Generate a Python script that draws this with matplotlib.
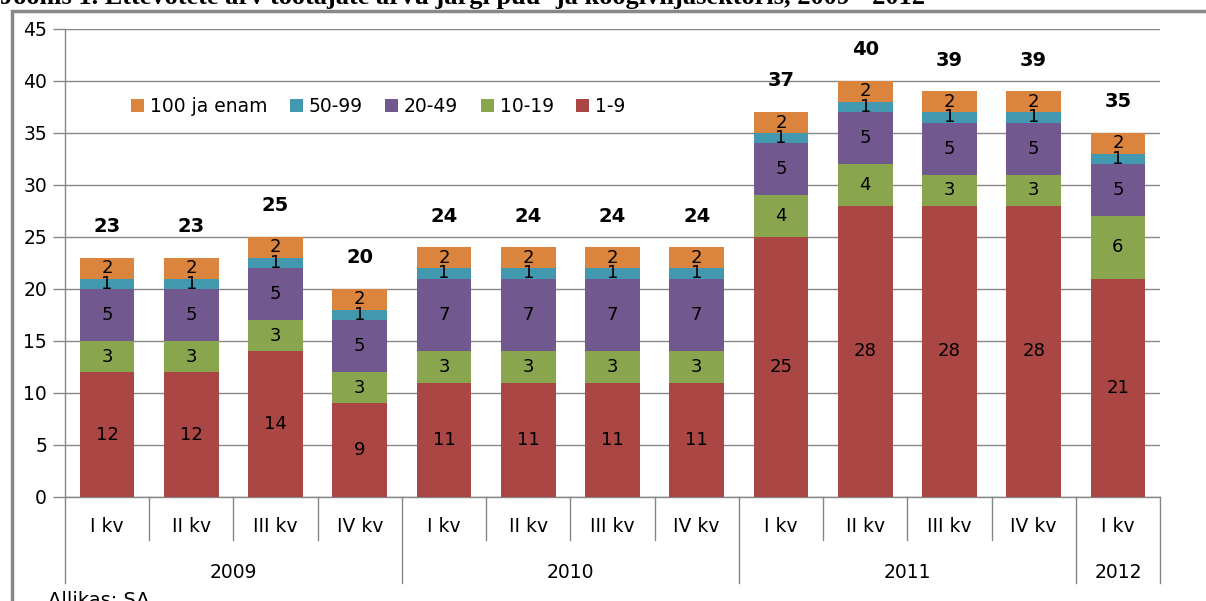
import numpy as np
import matplotlib
matplotlib.use("Agg")
import matplotlib.pyplot as plt
from matplotlib.patches import Rectangle

quarters = ["I kv", "II kv", "III kv", "IV kv", "I kv", "II kv", "III kv", "IV kv",
            "I kv", "II kv", "III kv", "IV kv", "I kv"]
years = ["2009", "2010", "2011", "2012"]
year_counts = [4, 4, 4, 1]

series_names = ["1-9", "10-19", "20-49", "50-99", "100 ja enam"]
s_1_9 = [12, 12, 14, 9, 11, 11, 11, 11, 25, 28, 28, 28, 21]
s_10_19 = [3, 3, 3, 3, 3, 3, 3, 3, 4, 4, 3, 3, 6]
s_20_49 = [5, 5, 5, 5, 7, 7, 7, 7, 5, 5, 5, 5, 5]
s_50_99 = [1, 1, 1, 1, 1, 1, 1, 1, 1, 1, 1, 1, 1]
s_100 = [2, 2, 2, 2, 2, 2, 2, 2, 2, 2, 2, 2, 2]
totals = [23, 23, 25, 20, 24, 24, 24, 24, 37, 40, 39, 39, 35]

colors = ["#AA4643", "#89A54E", "#71588F", "#4198AF", "#DB843D"]
grid_col = "#868686"

fig = plt.figure(figsize=(12.06, 6.01), dpi=100)
W, H = 1206, 601
ax = fig.add_axes([65 / W, 1 - 497 / H, (1160 - 65) / W, (497 - 29) / H])

x = np.arange(len(quarters))
bottom = np.zeros(len(quarters))
handles = []
for name, vals, col in zip(series_names, [s_1_9, s_10_19, s_20_49, s_50_99, s_100], colors):
    vals = np.array(vals, dtype=float)
    b = ax.bar(x, vals, 0.65, bottom=bottom, color=col, label=name, zorder=3)
    handles.append(b)
    for xi, v, bt in zip(x, vals, bottom):
        ax.text(xi, bt + v / 2, f"{int(v)}", ha="center", va="center",
                fontsize=13, color="black", zorder=4)
    bottom += vals

for xi, t in zip(x, totals):
    ax.text(xi, t + 3.0, str(t), ha="center", va="center",
            fontsize=14, fontweight="bold", color="black")

ax.set_xlim(-0.5, len(quarters) - 0.5)
ax.set_ylim(0, 45)
ax.set_yticks(np.arange(0, 46, 5))
ax.tick_params(axis="y", length=9, width=1.0, color=grid_col, labelsize=13.5, pad=4)
ax.grid(axis="y", color=grid_col, linewidth=1.0, zorder=0)
ax.set_xticks([])
for s in ["top", "right"]:
    ax.spines[s].set_visible(False)
for s in ["left", "bottom"]:
    ax.spines[s].set_color(grid_col)
    ax.spines[s].set_linewidth(1.0)

# two-level category axis
tr = ax.get_xaxis_transform()
axh = 497 - 29
q_depth = -43 / axh
y_depth = -86 / axh
for xi, q in zip(x, quarters):
    ax.text(xi, -30 / axh, q, transform=tr, ha="center", va="center", fontsize=13.5)
bounds = np.cumsum([0] + year_counts) - 0.5
for i in range(len(quarters) + 1):
    xb = i - 0.5
    depth = y_depth if xb in bounds else q_depth
    ax.plot([xb, xb], [0, depth], transform=tr, color=grid_col, lw=1.0, clip_on=False)
for yr, a, b in zip(years, bounds[:-1], bounds[1:]):
    ax.text((a + b) / 2, -75 / axh, yr, transform=tr, ha="center", va="center", fontsize=13.5)

ax.legend(handles[::-1], series_names[::-1], loc="upper left", bbox_to_anchor=(0.045, 0.89),
          ncol=5, frameon=False, fontsize=13.5, handlelength=0.7, handleheight=0.7,
          handletextpad=0.3, columnspacing=1.2)

# outer frame and texts
fig.patches.append(Rectangle((12 / W, -0.1), 1.2, 1.1 - 11 / H, transform=fig.transFigure,
                             fill=False, edgecolor="#888888", lw=2.5))
fig.text(0, 1 - 4 / H, "Joonis 1. Ettevõtete arv töötajate arvu järgi puu- ja köögiviljasektoris, 2009 - 2012",
         family="Liberation Serif", fontweight="bold", fontsize=19, ha="left", va="baseline")
fig.text(48 / W, 1 - 606 / H, "Allikas: SA", fontsize=14, ha="left", va="baseline")

fig.savefig("out.png", dpi=100)
